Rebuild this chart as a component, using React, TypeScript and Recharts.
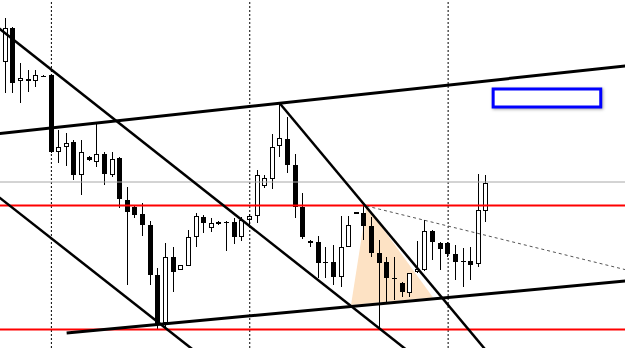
import { Bar, ComposedChart, ReferenceArea, ReferenceLine, XAxis, YAxis } from 'recharts'

// candle values (bar 1 = left-most full candle)
const opens = [
  1.3638, 1.3672, 1.3619, 1.3621, 1.3619, 1.36245, 1.3625, 1.3548, 1.3553, 1.3558,
  1.3525, 1.3543, 1.3538, 1.3546, 1.3525, 1.3542, 1.35, 1.3493, 1.3486, 1.3475,
  1.3425, 1.3377, 1.3443, 1.343, 1.3434, 1.3463, 1.3483, 1.3472, 1.3478, 1.34775,
  1.3478, 1.3463, 1.348, 1.3484, 1.3514, 1.3521, 1.3554, 1.3561, 1.3535, 1.3493,
  1.3459, 1.3458, 1.34375, 1.3438, 1.3423, 1.3453, 1.3488, 1.3487, 1.3474, 1.3447,
  1.3438, 1.34225, 1.3417, 1.3407, 1.3428, 1.343, 1.3469, 1.3457, 1.3457, 1.3446,
  1.34395, 1.3439, 1.3436, 1.3489,
]
const highs = [
  1.3682, 1.3673, 1.3637, 1.363, 1.363, 1.3625, 1.3626, 1.357, 1.3567, 1.356,
  1.356, 1.3544, 1.3577, 1.3548, 1.3548, 1.3543, 1.3513, 1.3495, 1.3497, 1.3479,
  1.3432, 1.3457, 1.3453, 1.3435, 1.347, 1.3487, 1.3485, 1.3482, 1.3479, 1.3479,
  1.3482, 1.3483, 1.3486, 1.353, 1.3525, 1.3566, 1.3596, 1.3583, 1.3546, 1.3507,
  1.346, 1.3464, 1.3453, 1.3455, 1.3484, 1.3484, 1.3488, 1.3495, 1.3483, 1.346,
  1.3443, 1.3443, 1.3418, 1.3427, 1.3459, 1.348, 1.347, 1.3458, 1.3458, 1.3455,
  1.3452, 1.3453, 1.3526, 1.3525,
]
const lows = [
  1.3607, 1.3607, 1.3597, 1.3608, 1.3613, 1.3623, 1.3547, 1.3537, 1.3534, 1.352,
  1.3505, 1.3539, 1.3533, 1.3515, 1.3523, 1.3492, 1.3415, 1.3482, 1.3464, 1.3415,
  1.337, 1.3373, 1.3408, 1.343, 1.3434, 1.3453, 1.3467, 1.3468, 1.3475, 1.3449,
  1.3456, 1.3459, 1.3475, 1.3477, 1.3512, 1.3511, 1.3543, 1.3527, 1.3482, 1.3461,
  1.3453, 1.3422, 1.3422, 1.3415, 1.3413, 1.3453, 1.3486, 1.346, 1.3443, 1.3372,
  1.3397, 1.34, 1.3403, 1.3403, 1.3427, 1.3429, 1.344, 1.343, 1.3443, 1.342,
  1.3413, 1.342, 1.3433, 1.3478,
]
const closes = [
  1.3672, 1.3617, 1.3622, 1.3619, 1.3625, 1.36235, 1.3548, 1.3553, 1.3557, 1.3525,
  1.3548, 1.354, 1.3546, 1.3526, 1.3541, 1.3501, 1.3488, 1.3485, 1.3475, 1.3425,
  1.3375, 1.3443, 1.3428, 1.3435, 1.3463, 1.3484, 1.3477, 1.3477, 1.3476, 1.34765,
  1.3463, 1.348, 1.3484, 1.3525, 1.3522, 1.3553, 1.3562, 1.3535, 1.3493, 1.3463,
  1.3457, 1.3437, 1.34365, 1.3423, 1.3453, 1.3475, 1.34865, 1.3474, 1.3447, 1.3437,
  1.3422, 1.34215, 1.3408, 1.3427, 1.3431, 1.3469, 1.3458, 1.3451, 1.3446, 1.3438,
  1.34385, 1.3435, 1.349, 1.3517,
]

// drawn objects: [bar index, price]
const upperChannel = [[0, 1.35663], [83, 1.36347]]
const lowerChannel = [[9, 1.3367], [83, 1.34196]]
const trendA = [[0, 1.36725], [60, 1.33113]]
const trendB = [[37, 1.3596], [66, 1.3331]]
const trendC = [[0, 1.35036], [27, 1.33417]]
const dashedLine = [[48.3, 1.3494], [83, 1.34289]]
const triangle = [[46.27, 1.3395], [48.3, 1.3494], [57.02, 1.34025]]
const blueBox = { x: [64.9, 79.0], y: [1.3593, 1.3611] }
const redLevels = [1.34945, 1.33705]
const bidLevel = 1.3518
const separators = [7, 33, 59]

const candles = opens.map((open, k) => ({
  i: k + 1,
  open,
  high: highs[k],
  low: lows[k],
  close: closes[k],
}))

const W = 625
const H = 348

function Candle(props: any) {
  const { x, y, width, height, payload } = props
  const { open, high, low, close } = payload
  const toY = (v: number) => y + ((high - v) / (high - low)) * height
  const c = Math.floor(x + width / 2)
  const top = Math.round(toY(Math.max(open, close)))
  const bottom = Math.max(Math.round(toY(Math.min(open, close))), top + 1)
  const up = close > open
  return (
    <g>
      <line x1={c + 0.5} x2={c + 0.5} y1={Math.round(y)} y2={Math.round(y + height)} stroke="#000" />
      {up ? (
        <rect x={c - 1.5} y={top + 0.5} width={4} height={Math.max(bottom - top - 1, 1)} fill="#fff" stroke="#000" />
      ) : (
        <rect x={c - 2} y={top} width={5} height={bottom - top} fill="#000" />
      )}
    </g>
  )
}

function Triangle(props: any) {
  const { x, y, width, height } = props
  const xs = triangle.map((p) => p[0])
  const ys = triangle.map((p) => p[1])
  const x0 = Math.min(...xs)
  const x1 = Math.max(...xs)
  const y0 = Math.min(...ys)
  const y1 = Math.max(...ys)
  const pts = triangle
    .map(([a, b]) => `${x + ((a - x0) / (x1 - x0)) * width},${y + ((y1 - b) / (y1 - y0)) * height}`)
    .join(' ')
  return <polygon points={pts} fill="#fde2c4" stroke="none" />
}

function Box(props: any) {
  const { x, y, width, height } = props
  return (
    <rect
      x={x}
      y={y}
      width={width}
      height={height}
      fill="#fff"
      stroke="#0000ff"
      strokeWidth={3}
      style={{ filter: 'drop-shadow(1px 1px 1.5px rgba(0,0,0,0.35))' }}
    />
  )
}

const seg = (line: number[][]) => line.map(([x, y]) => ({ x, y }))

export default function App() {
  const tri = triangle
  return (
    <div style={{ width: W, height: H }}>
      <style>{'body{margin:0;background:#fff}'}</style>
      <ComposedChart width={W} height={H} data={candles} margin={{ top: 0, right: 0, bottom: 0, left: 0 }}>
        <XAxis dataKey="i" type="number" domain={[0.266, 82.18]} allowDataOverflow hide />
        <YAxis type="number" domain={[1.3352, 1.37]} allowDataOverflow hide />
        <ReferenceArea
          x1={Math.min(...tri.map((p) => p[0]))}
          x2={Math.max(...tri.map((p) => p[0]))}
          y1={Math.min(...tri.map((p) => p[1]))}
          y2={Math.max(...tri.map((p) => p[1]))}
          shape={Triangle}
          ifOverflow="hidden"
        />
        {separators.map((s) => (
          <ReferenceLine key={s} x={s} stroke="#000" strokeDasharray="2 2" />
        ))}
        <ReferenceLine y={bidLevel} stroke="#a8a8a8" />
        <Bar dataKey={(d: any) => [d.low, d.high]} barSize={5} shape={Candle} isAnimationActive={false} />
        {redLevels.map((r) => (
          <ReferenceLine key={r} y={r} stroke="#ff0000" strokeWidth={2} />
        ))}
        <ReferenceLine segment={seg(dashedLine)} stroke="#555" strokeDasharray="3 3" ifOverflow="hidden" />
        <ReferenceLine segment={seg(upperChannel)} stroke="#000" strokeWidth={3} ifOverflow="hidden" />
        <ReferenceLine segment={seg(lowerChannel)} stroke="#000" strokeWidth={3} ifOverflow="hidden" />
        <ReferenceLine segment={seg(trendA)} stroke="#000" strokeWidth={2.5} ifOverflow="hidden" />
        <ReferenceLine segment={seg(trendB)} stroke="#000" strokeWidth={2.5} ifOverflow="hidden" />
        <ReferenceLine segment={seg(trendC)} stroke="#000" strokeWidth={2.5} ifOverflow="hidden" />
        <ReferenceArea x1={blueBox.x[0]} x2={blueBox.x[1]} y1={blueBox.y[0]} y2={blueBox.y[1]} shape={Box} />
      </ComposedChart>
    </div>
  )
}
